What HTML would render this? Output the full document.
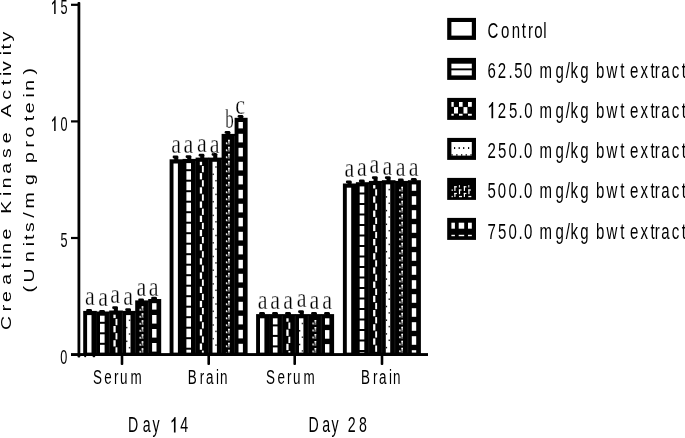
<!DOCTYPE html>
<html><head><meta charset="utf-8"><style>
html,body{margin:0;padding:0;background:#fff;width:685px;height:438px;overflow:hidden}
svg{display:block;filter:grayscale(1)}
text{fill:#000}
</style></head><body>
<svg width="685" height="438" viewBox="0 0 685 438">
<rect width="685" height="438" fill="#fff"/>
<rect x="83.20" y="310.90" width="13.60" height="43.70" fill="#000"/>
<rect x="87.10" y="315.10" width="4.40" height="37.50" fill="#fff"/>
<rect x="96.20" y="311.50" width="13.60" height="43.10" fill="#000"/>
<rect x="100.00" y="315.70" width="4.60" height="6.10" fill="#fff"/>
<rect x="100.00" y="323.80" width="4.60" height="8.50" fill="#fff"/>
<rect x="100.00" y="334.30" width="4.60" height="8.50" fill="#fff"/>
<rect x="100.00" y="344.80" width="4.60" height="7.80" fill="#fff"/>
<rect x="109.20" y="310.50" width="13.60" height="44.10" fill="#000"/>
<rect x="113.40" y="314.70" width="2.30" height="3.40" fill="#fff"/>
<rect x="115.50" y="318.90" width="1.90" height="6.30" fill="#fff"/>
<rect x="113.40" y="326.00" width="2.30" height="6.30" fill="#fff"/>
<rect x="115.50" y="333.10" width="1.90" height="6.30" fill="#fff"/>
<rect x="113.40" y="340.20" width="2.30" height="6.30" fill="#fff"/>
<rect x="115.50" y="347.30" width="1.90" height="5.30" fill="#fff"/>
<rect x="122.20" y="310.90" width="13.60" height="43.70" fill="#000"/>
<rect x="126.10" y="315.10" width="4.40" height="37.50" fill="#fff"/>
<rect x="128.80" y="319.55" width="1.6" height="1.5" fill="#333"/>
<rect x="126.10" y="326.85" width="1.3" height="1.5" fill="#111"/>
<rect x="128.80" y="333.25" width="1.6" height="1.5" fill="#333"/>
<rect x="126.10" y="340.55" width="1.3" height="1.5" fill="#111"/>
<rect x="128.80" y="346.95" width="1.6" height="1.5" fill="#333"/>
<rect x="135.20" y="300.40" width="13.60" height="54.20" fill="#000"/>
<rect x="141.70" y="306.30" width="1.60" height="4.60" fill="#b0b0b0"/>
<rect x="141.70" y="306.30" width="1.60" height="1.40" fill="#fff"/>
<rect x="139.70" y="309.70" width="3.60" height="1.20" fill="#555"/>
<rect x="139.50" y="308.80" width="1.30" height="1.80" fill="#eee"/>
<rect x="141.70" y="313.30" width="1.60" height="4.60" fill="#b0b0b0"/>
<rect x="141.70" y="313.30" width="1.60" height="1.40" fill="#fff"/>
<rect x="139.70" y="316.70" width="3.60" height="1.20" fill="#555"/>
<rect x="139.50" y="315.80" width="1.30" height="1.80" fill="#eee"/>
<rect x="141.70" y="320.30" width="1.60" height="4.60" fill="#b0b0b0"/>
<rect x="141.70" y="320.30" width="1.60" height="1.40" fill="#fff"/>
<rect x="139.70" y="323.70" width="3.60" height="1.20" fill="#555"/>
<rect x="139.50" y="322.80" width="1.30" height="1.80" fill="#eee"/>
<rect x="141.70" y="327.30" width="1.60" height="4.60" fill="#b0b0b0"/>
<rect x="141.70" y="327.30" width="1.60" height="1.40" fill="#fff"/>
<rect x="139.70" y="330.70" width="3.60" height="1.20" fill="#555"/>
<rect x="139.50" y="329.80" width="1.30" height="1.80" fill="#eee"/>
<rect x="141.70" y="334.30" width="1.60" height="4.60" fill="#b0b0b0"/>
<rect x="141.70" y="334.30" width="1.60" height="1.40" fill="#fff"/>
<rect x="139.70" y="337.70" width="3.60" height="1.20" fill="#555"/>
<rect x="139.50" y="336.80" width="1.30" height="1.80" fill="#eee"/>
<rect x="141.70" y="341.30" width="1.60" height="4.60" fill="#b0b0b0"/>
<rect x="141.70" y="341.30" width="1.60" height="1.40" fill="#fff"/>
<rect x="139.70" y="344.70" width="3.60" height="1.20" fill="#555"/>
<rect x="139.50" y="343.80" width="1.30" height="1.80" fill="#eee"/>
<rect x="141.70" y="348.30" width="1.60" height="4.30" fill="#b0b0b0"/>
<rect x="141.70" y="348.30" width="1.60" height="1.40" fill="#fff"/>
<rect x="139.70" y="351.70" width="3.60" height="0.90" fill="#555"/>
<rect x="139.50" y="350.80" width="1.30" height="1.80" fill="#eee"/>
<rect x="148.20" y="299.00" width="13.00" height="55.60" fill="#000"/>
<rect x="152.10" y="303.20" width="4.40" height="6.40" fill="#fff"/>
<rect x="152.10" y="315.00" width="4.40" height="8.60" fill="#fff"/>
<rect x="152.10" y="329.00" width="4.40" height="8.60" fill="#fff"/>
<rect x="152.10" y="343.00" width="4.40" height="8.60" fill="#fff"/>
<rect x="169.60" y="159.30" width="13.60" height="195.30" fill="#000"/>
<rect x="173.50" y="163.50" width="4.40" height="189.10" fill="#fff"/>
<rect x="182.60" y="158.90" width="13.60" height="195.70" fill="#000"/>
<rect x="186.40" y="163.10" width="4.60" height="6.10" fill="#fff"/>
<rect x="186.40" y="171.20" width="4.60" height="8.50" fill="#fff"/>
<rect x="186.40" y="181.70" width="4.60" height="8.50" fill="#fff"/>
<rect x="186.40" y="192.20" width="4.60" height="8.50" fill="#fff"/>
<rect x="186.40" y="202.70" width="4.60" height="8.50" fill="#fff"/>
<rect x="186.40" y="213.20" width="4.60" height="8.50" fill="#fff"/>
<rect x="186.40" y="223.70" width="4.60" height="8.50" fill="#fff"/>
<rect x="186.40" y="234.20" width="4.60" height="8.50" fill="#fff"/>
<rect x="186.40" y="244.70" width="4.60" height="8.50" fill="#fff"/>
<rect x="186.40" y="255.20" width="4.60" height="8.50" fill="#fff"/>
<rect x="186.40" y="265.70" width="4.60" height="8.50" fill="#fff"/>
<rect x="186.40" y="276.20" width="4.60" height="8.50" fill="#fff"/>
<rect x="186.40" y="286.70" width="4.60" height="8.50" fill="#fff"/>
<rect x="186.40" y="297.20" width="4.60" height="8.50" fill="#fff"/>
<rect x="186.40" y="307.70" width="4.60" height="8.50" fill="#fff"/>
<rect x="186.40" y="318.20" width="4.60" height="8.50" fill="#fff"/>
<rect x="186.40" y="328.70" width="4.60" height="8.50" fill="#fff"/>
<rect x="186.40" y="339.20" width="4.60" height="8.50" fill="#fff"/>
<rect x="186.40" y="349.70" width="4.60" height="2.90" fill="#fff"/>
<rect x="195.60" y="157.60" width="13.60" height="197.00" fill="#000"/>
<rect x="199.80" y="161.80" width="2.30" height="3.40" fill="#fff"/>
<rect x="201.90" y="166.00" width="1.90" height="6.30" fill="#fff"/>
<rect x="199.80" y="173.10" width="2.30" height="6.30" fill="#fff"/>
<rect x="201.90" y="180.20" width="1.90" height="6.30" fill="#fff"/>
<rect x="199.80" y="187.30" width="2.30" height="6.30" fill="#fff"/>
<rect x="201.90" y="194.40" width="1.90" height="6.30" fill="#fff"/>
<rect x="199.80" y="201.50" width="2.30" height="6.30" fill="#fff"/>
<rect x="201.90" y="208.60" width="1.90" height="6.30" fill="#fff"/>
<rect x="199.80" y="215.70" width="2.30" height="6.30" fill="#fff"/>
<rect x="201.90" y="222.80" width="1.90" height="6.30" fill="#fff"/>
<rect x="199.80" y="229.90" width="2.30" height="6.30" fill="#fff"/>
<rect x="201.90" y="237.00" width="1.90" height="6.30" fill="#fff"/>
<rect x="199.80" y="244.10" width="2.30" height="6.30" fill="#fff"/>
<rect x="201.90" y="251.20" width="1.90" height="6.30" fill="#fff"/>
<rect x="199.80" y="258.30" width="2.30" height="6.30" fill="#fff"/>
<rect x="201.90" y="265.40" width="1.90" height="6.30" fill="#fff"/>
<rect x="199.80" y="272.50" width="2.30" height="6.30" fill="#fff"/>
<rect x="201.90" y="279.60" width="1.90" height="6.30" fill="#fff"/>
<rect x="199.80" y="286.70" width="2.30" height="6.30" fill="#fff"/>
<rect x="201.90" y="293.80" width="1.90" height="6.30" fill="#fff"/>
<rect x="199.80" y="300.90" width="2.30" height="6.30" fill="#fff"/>
<rect x="201.90" y="308.00" width="1.90" height="6.30" fill="#fff"/>
<rect x="199.80" y="315.10" width="2.30" height="6.30" fill="#fff"/>
<rect x="201.90" y="322.20" width="1.90" height="6.30" fill="#fff"/>
<rect x="199.80" y="329.30" width="2.30" height="6.30" fill="#fff"/>
<rect x="201.90" y="336.40" width="1.90" height="6.30" fill="#fff"/>
<rect x="199.80" y="343.50" width="2.30" height="6.30" fill="#fff"/>
<rect x="201.90" y="350.60" width="1.90" height="2.00" fill="#fff"/>
<rect x="208.60" y="157.60" width="13.60" height="197.00" fill="#000"/>
<rect x="212.50" y="161.80" width="4.40" height="190.80" fill="#fff"/>
<rect x="215.20" y="166.25" width="1.6" height="1.5" fill="#333"/>
<rect x="212.50" y="173.55" width="1.3" height="1.5" fill="#111"/>
<rect x="215.20" y="179.95" width="1.6" height="1.5" fill="#333"/>
<rect x="212.50" y="187.25" width="1.3" height="1.5" fill="#111"/>
<rect x="215.20" y="193.65" width="1.6" height="1.5" fill="#333"/>
<rect x="212.50" y="200.95" width="1.3" height="1.5" fill="#111"/>
<rect x="215.20" y="207.35" width="1.6" height="1.5" fill="#333"/>
<rect x="212.50" y="214.65" width="1.3" height="1.5" fill="#111"/>
<rect x="215.20" y="221.05" width="1.6" height="1.5" fill="#333"/>
<rect x="212.50" y="228.35" width="1.3" height="1.5" fill="#111"/>
<rect x="215.20" y="234.75" width="1.6" height="1.5" fill="#333"/>
<rect x="212.50" y="242.05" width="1.3" height="1.5" fill="#111"/>
<rect x="215.20" y="248.45" width="1.6" height="1.5" fill="#333"/>
<rect x="212.50" y="255.75" width="1.3" height="1.5" fill="#111"/>
<rect x="215.20" y="262.15" width="1.6" height="1.5" fill="#333"/>
<rect x="212.50" y="269.45" width="1.3" height="1.5" fill="#111"/>
<rect x="215.20" y="275.85" width="1.6" height="1.5" fill="#333"/>
<rect x="212.50" y="283.15" width="1.3" height="1.5" fill="#111"/>
<rect x="215.20" y="289.55" width="1.6" height="1.5" fill="#333"/>
<rect x="212.50" y="296.85" width="1.3" height="1.5" fill="#111"/>
<rect x="215.20" y="303.25" width="1.6" height="1.5" fill="#333"/>
<rect x="212.50" y="310.55" width="1.3" height="1.5" fill="#111"/>
<rect x="215.20" y="316.95" width="1.6" height="1.5" fill="#333"/>
<rect x="212.50" y="324.25" width="1.3" height="1.5" fill="#111"/>
<rect x="215.20" y="330.65" width="1.6" height="1.5" fill="#333"/>
<rect x="212.50" y="337.95" width="1.3" height="1.5" fill="#111"/>
<rect x="215.20" y="344.35" width="1.6" height="1.5" fill="#333"/>
<rect x="221.60" y="133.90" width="13.60" height="220.70" fill="#000"/>
<rect x="228.10" y="139.80" width="1.60" height="4.60" fill="#b0b0b0"/>
<rect x="228.10" y="139.80" width="1.60" height="1.40" fill="#fff"/>
<rect x="226.10" y="143.20" width="3.60" height="1.20" fill="#555"/>
<rect x="225.90" y="142.30" width="1.30" height="1.80" fill="#eee"/>
<rect x="228.10" y="146.80" width="1.60" height="4.60" fill="#b0b0b0"/>
<rect x="228.10" y="146.80" width="1.60" height="1.40" fill="#fff"/>
<rect x="226.10" y="150.20" width="3.60" height="1.20" fill="#555"/>
<rect x="225.90" y="149.30" width="1.30" height="1.80" fill="#eee"/>
<rect x="228.10" y="153.80" width="1.60" height="4.60" fill="#b0b0b0"/>
<rect x="228.10" y="153.80" width="1.60" height="1.40" fill="#fff"/>
<rect x="226.10" y="157.20" width="3.60" height="1.20" fill="#555"/>
<rect x="225.90" y="156.30" width="1.30" height="1.80" fill="#eee"/>
<rect x="228.10" y="160.80" width="1.60" height="4.60" fill="#b0b0b0"/>
<rect x="228.10" y="160.80" width="1.60" height="1.40" fill="#fff"/>
<rect x="226.10" y="164.20" width="3.60" height="1.20" fill="#555"/>
<rect x="225.90" y="163.30" width="1.30" height="1.80" fill="#eee"/>
<rect x="228.10" y="167.80" width="1.60" height="4.60" fill="#b0b0b0"/>
<rect x="228.10" y="167.80" width="1.60" height="1.40" fill="#fff"/>
<rect x="226.10" y="171.20" width="3.60" height="1.20" fill="#555"/>
<rect x="225.90" y="170.30" width="1.30" height="1.80" fill="#eee"/>
<rect x="228.10" y="174.80" width="1.60" height="4.60" fill="#b0b0b0"/>
<rect x="228.10" y="174.80" width="1.60" height="1.40" fill="#fff"/>
<rect x="226.10" y="178.20" width="3.60" height="1.20" fill="#555"/>
<rect x="225.90" y="177.30" width="1.30" height="1.80" fill="#eee"/>
<rect x="228.10" y="181.80" width="1.60" height="4.60" fill="#b0b0b0"/>
<rect x="228.10" y="181.80" width="1.60" height="1.40" fill="#fff"/>
<rect x="226.10" y="185.20" width="3.60" height="1.20" fill="#555"/>
<rect x="225.90" y="184.30" width="1.30" height="1.80" fill="#eee"/>
<rect x="228.10" y="188.80" width="1.60" height="4.60" fill="#b0b0b0"/>
<rect x="228.10" y="188.80" width="1.60" height="1.40" fill="#fff"/>
<rect x="226.10" y="192.20" width="3.60" height="1.20" fill="#555"/>
<rect x="225.90" y="191.30" width="1.30" height="1.80" fill="#eee"/>
<rect x="228.10" y="195.80" width="1.60" height="4.60" fill="#b0b0b0"/>
<rect x="228.10" y="195.80" width="1.60" height="1.40" fill="#fff"/>
<rect x="226.10" y="199.20" width="3.60" height="1.20" fill="#555"/>
<rect x="225.90" y="198.30" width="1.30" height="1.80" fill="#eee"/>
<rect x="228.10" y="202.80" width="1.60" height="4.60" fill="#b0b0b0"/>
<rect x="228.10" y="202.80" width="1.60" height="1.40" fill="#fff"/>
<rect x="226.10" y="206.20" width="3.60" height="1.20" fill="#555"/>
<rect x="225.90" y="205.30" width="1.30" height="1.80" fill="#eee"/>
<rect x="228.10" y="209.80" width="1.60" height="4.60" fill="#b0b0b0"/>
<rect x="228.10" y="209.80" width="1.60" height="1.40" fill="#fff"/>
<rect x="226.10" y="213.20" width="3.60" height="1.20" fill="#555"/>
<rect x="225.90" y="212.30" width="1.30" height="1.80" fill="#eee"/>
<rect x="228.10" y="216.80" width="1.60" height="4.60" fill="#b0b0b0"/>
<rect x="228.10" y="216.80" width="1.60" height="1.40" fill="#fff"/>
<rect x="226.10" y="220.20" width="3.60" height="1.20" fill="#555"/>
<rect x="225.90" y="219.30" width="1.30" height="1.80" fill="#eee"/>
<rect x="228.10" y="223.80" width="1.60" height="4.60" fill="#b0b0b0"/>
<rect x="228.10" y="223.80" width="1.60" height="1.40" fill="#fff"/>
<rect x="226.10" y="227.20" width="3.60" height="1.20" fill="#555"/>
<rect x="225.90" y="226.30" width="1.30" height="1.80" fill="#eee"/>
<rect x="228.10" y="230.80" width="1.60" height="4.60" fill="#b0b0b0"/>
<rect x="228.10" y="230.80" width="1.60" height="1.40" fill="#fff"/>
<rect x="226.10" y="234.20" width="3.60" height="1.20" fill="#555"/>
<rect x="225.90" y="233.30" width="1.30" height="1.80" fill="#eee"/>
<rect x="228.10" y="237.80" width="1.60" height="4.60" fill="#b0b0b0"/>
<rect x="228.10" y="237.80" width="1.60" height="1.40" fill="#fff"/>
<rect x="226.10" y="241.20" width="3.60" height="1.20" fill="#555"/>
<rect x="225.90" y="240.30" width="1.30" height="1.80" fill="#eee"/>
<rect x="228.10" y="244.80" width="1.60" height="4.60" fill="#b0b0b0"/>
<rect x="228.10" y="244.80" width="1.60" height="1.40" fill="#fff"/>
<rect x="226.10" y="248.20" width="3.60" height="1.20" fill="#555"/>
<rect x="225.90" y="247.30" width="1.30" height="1.80" fill="#eee"/>
<rect x="228.10" y="251.80" width="1.60" height="4.60" fill="#b0b0b0"/>
<rect x="228.10" y="251.80" width="1.60" height="1.40" fill="#fff"/>
<rect x="226.10" y="255.20" width="3.60" height="1.20" fill="#555"/>
<rect x="225.90" y="254.30" width="1.30" height="1.80" fill="#eee"/>
<rect x="228.10" y="258.80" width="1.60" height="4.60" fill="#b0b0b0"/>
<rect x="228.10" y="258.80" width="1.60" height="1.40" fill="#fff"/>
<rect x="226.10" y="262.20" width="3.60" height="1.20" fill="#555"/>
<rect x="225.90" y="261.30" width="1.30" height="1.80" fill="#eee"/>
<rect x="228.10" y="265.80" width="1.60" height="4.60" fill="#b0b0b0"/>
<rect x="228.10" y="265.80" width="1.60" height="1.40" fill="#fff"/>
<rect x="226.10" y="269.20" width="3.60" height="1.20" fill="#555"/>
<rect x="225.90" y="268.30" width="1.30" height="1.80" fill="#eee"/>
<rect x="228.10" y="272.80" width="1.60" height="4.60" fill="#b0b0b0"/>
<rect x="228.10" y="272.80" width="1.60" height="1.40" fill="#fff"/>
<rect x="226.10" y="276.20" width="3.60" height="1.20" fill="#555"/>
<rect x="225.90" y="275.30" width="1.30" height="1.80" fill="#eee"/>
<rect x="228.10" y="279.80" width="1.60" height="4.60" fill="#b0b0b0"/>
<rect x="228.10" y="279.80" width="1.60" height="1.40" fill="#fff"/>
<rect x="226.10" y="283.20" width="3.60" height="1.20" fill="#555"/>
<rect x="225.90" y="282.30" width="1.30" height="1.80" fill="#eee"/>
<rect x="228.10" y="286.80" width="1.60" height="4.60" fill="#b0b0b0"/>
<rect x="228.10" y="286.80" width="1.60" height="1.40" fill="#fff"/>
<rect x="226.10" y="290.20" width="3.60" height="1.20" fill="#555"/>
<rect x="225.90" y="289.30" width="1.30" height="1.80" fill="#eee"/>
<rect x="228.10" y="293.80" width="1.60" height="4.60" fill="#b0b0b0"/>
<rect x="228.10" y="293.80" width="1.60" height="1.40" fill="#fff"/>
<rect x="226.10" y="297.20" width="3.60" height="1.20" fill="#555"/>
<rect x="225.90" y="296.30" width="1.30" height="1.80" fill="#eee"/>
<rect x="228.10" y="300.80" width="1.60" height="4.60" fill="#b0b0b0"/>
<rect x="228.10" y="300.80" width="1.60" height="1.40" fill="#fff"/>
<rect x="226.10" y="304.20" width="3.60" height="1.20" fill="#555"/>
<rect x="225.90" y="303.30" width="1.30" height="1.80" fill="#eee"/>
<rect x="228.10" y="307.80" width="1.60" height="4.60" fill="#b0b0b0"/>
<rect x="228.10" y="307.80" width="1.60" height="1.40" fill="#fff"/>
<rect x="226.10" y="311.20" width="3.60" height="1.20" fill="#555"/>
<rect x="225.90" y="310.30" width="1.30" height="1.80" fill="#eee"/>
<rect x="228.10" y="314.80" width="1.60" height="4.60" fill="#b0b0b0"/>
<rect x="228.10" y="314.80" width="1.60" height="1.40" fill="#fff"/>
<rect x="226.10" y="318.20" width="3.60" height="1.20" fill="#555"/>
<rect x="225.90" y="317.30" width="1.30" height="1.80" fill="#eee"/>
<rect x="228.10" y="321.80" width="1.60" height="4.60" fill="#b0b0b0"/>
<rect x="228.10" y="321.80" width="1.60" height="1.40" fill="#fff"/>
<rect x="226.10" y="325.20" width="3.60" height="1.20" fill="#555"/>
<rect x="225.90" y="324.30" width="1.30" height="1.80" fill="#eee"/>
<rect x="228.10" y="328.80" width="1.60" height="4.60" fill="#b0b0b0"/>
<rect x="228.10" y="328.80" width="1.60" height="1.40" fill="#fff"/>
<rect x="226.10" y="332.20" width="3.60" height="1.20" fill="#555"/>
<rect x="225.90" y="331.30" width="1.30" height="1.80" fill="#eee"/>
<rect x="228.10" y="335.80" width="1.60" height="4.60" fill="#b0b0b0"/>
<rect x="228.10" y="335.80" width="1.60" height="1.40" fill="#fff"/>
<rect x="226.10" y="339.20" width="3.60" height="1.20" fill="#555"/>
<rect x="225.90" y="338.30" width="1.30" height="1.80" fill="#eee"/>
<rect x="228.10" y="342.80" width="1.60" height="4.60" fill="#b0b0b0"/>
<rect x="228.10" y="342.80" width="1.60" height="1.40" fill="#fff"/>
<rect x="226.10" y="346.20" width="3.60" height="1.20" fill="#555"/>
<rect x="225.90" y="345.30" width="1.30" height="1.80" fill="#eee"/>
<rect x="228.10" y="349.80" width="1.60" height="2.80" fill="#b0b0b0"/>
<rect x="228.10" y="349.80" width="1.60" height="1.40" fill="#fff"/>
<rect x="225.90" y="352.30" width="1.30" height="0.30" fill="#eee"/>
<rect x="234.60" y="117.80" width="13.00" height="236.80" fill="#000"/>
<rect x="238.50" y="122.00" width="4.40" height="6.40" fill="#fff"/>
<rect x="238.50" y="133.80" width="4.40" height="8.60" fill="#fff"/>
<rect x="238.50" y="147.80" width="4.40" height="8.60" fill="#fff"/>
<rect x="238.50" y="161.80" width="4.40" height="8.60" fill="#fff"/>
<rect x="238.50" y="175.80" width="4.40" height="8.60" fill="#fff"/>
<rect x="238.50" y="189.80" width="4.40" height="8.60" fill="#fff"/>
<rect x="238.50" y="203.80" width="4.40" height="8.60" fill="#fff"/>
<rect x="238.50" y="217.80" width="4.40" height="8.60" fill="#fff"/>
<rect x="238.50" y="231.80" width="4.40" height="8.60" fill="#fff"/>
<rect x="238.50" y="245.80" width="4.40" height="8.60" fill="#fff"/>
<rect x="238.50" y="259.80" width="4.40" height="8.60" fill="#fff"/>
<rect x="238.50" y="273.80" width="4.40" height="8.60" fill="#fff"/>
<rect x="238.50" y="287.80" width="4.40" height="8.60" fill="#fff"/>
<rect x="238.50" y="301.80" width="4.40" height="8.60" fill="#fff"/>
<rect x="238.50" y="315.80" width="4.40" height="8.60" fill="#fff"/>
<rect x="238.50" y="329.80" width="4.40" height="8.60" fill="#fff"/>
<rect x="238.50" y="343.80" width="4.40" height="8.60" fill="#fff"/>
<rect x="256.10" y="314.10" width="13.60" height="40.50" fill="#000"/>
<rect x="260.00" y="318.30" width="4.40" height="34.30" fill="#fff"/>
<rect x="269.10" y="314.10" width="13.60" height="40.50" fill="#000"/>
<rect x="272.90" y="318.30" width="4.60" height="6.10" fill="#fff"/>
<rect x="272.90" y="326.40" width="4.60" height="8.50" fill="#fff"/>
<rect x="272.90" y="336.90" width="4.60" height="8.50" fill="#fff"/>
<rect x="272.90" y="347.40" width="4.60" height="5.20" fill="#fff"/>
<rect x="282.10" y="314.10" width="13.60" height="40.50" fill="#000"/>
<rect x="286.30" y="318.30" width="2.30" height="3.40" fill="#fff"/>
<rect x="288.40" y="322.50" width="1.90" height="6.30" fill="#fff"/>
<rect x="286.30" y="329.60" width="2.30" height="6.30" fill="#fff"/>
<rect x="288.40" y="336.70" width="1.90" height="6.30" fill="#fff"/>
<rect x="286.30" y="343.80" width="2.30" height="6.30" fill="#fff"/>
<rect x="288.40" y="350.90" width="1.90" height="1.70" fill="#fff"/>
<rect x="295.10" y="314.10" width="13.60" height="40.50" fill="#000"/>
<rect x="299.00" y="318.30" width="4.40" height="34.30" fill="#fff"/>
<rect x="301.70" y="322.75" width="1.6" height="1.5" fill="#333"/>
<rect x="299.00" y="330.05" width="1.3" height="1.5" fill="#111"/>
<rect x="301.70" y="336.45" width="1.6" height="1.5" fill="#333"/>
<rect x="299.00" y="343.75" width="1.3" height="1.5" fill="#111"/>
<rect x="301.70" y="350.15" width="1.6" height="1.5" fill="#333"/>
<rect x="308.10" y="314.10" width="13.60" height="40.50" fill="#000"/>
<rect x="314.60" y="320.00" width="1.60" height="4.60" fill="#b0b0b0"/>
<rect x="314.60" y="320.00" width="1.60" height="1.40" fill="#fff"/>
<rect x="312.60" y="323.40" width="3.60" height="1.20" fill="#555"/>
<rect x="312.40" y="322.50" width="1.30" height="1.80" fill="#eee"/>
<rect x="314.60" y="327.00" width="1.60" height="4.60" fill="#b0b0b0"/>
<rect x="314.60" y="327.00" width="1.60" height="1.40" fill="#fff"/>
<rect x="312.60" y="330.40" width="3.60" height="1.20" fill="#555"/>
<rect x="312.40" y="329.50" width="1.30" height="1.80" fill="#eee"/>
<rect x="314.60" y="334.00" width="1.60" height="4.60" fill="#b0b0b0"/>
<rect x="314.60" y="334.00" width="1.60" height="1.40" fill="#fff"/>
<rect x="312.60" y="337.40" width="3.60" height="1.20" fill="#555"/>
<rect x="312.40" y="336.50" width="1.30" height="1.80" fill="#eee"/>
<rect x="314.60" y="341.00" width="1.60" height="4.60" fill="#b0b0b0"/>
<rect x="314.60" y="341.00" width="1.60" height="1.40" fill="#fff"/>
<rect x="312.60" y="344.40" width="3.60" height="1.20" fill="#555"/>
<rect x="312.40" y="343.50" width="1.30" height="1.80" fill="#eee"/>
<rect x="314.60" y="348.00" width="1.60" height="4.60" fill="#b0b0b0"/>
<rect x="314.60" y="348.00" width="1.60" height="1.40" fill="#fff"/>
<rect x="312.60" y="351.40" width="3.60" height="1.20" fill="#555"/>
<rect x="312.40" y="350.50" width="1.30" height="1.80" fill="#eee"/>
<rect x="321.10" y="314.10" width="13.00" height="40.50" fill="#000"/>
<rect x="325.00" y="318.30" width="4.40" height="6.40" fill="#fff"/>
<rect x="325.00" y="330.10" width="4.40" height="8.60" fill="#fff"/>
<rect x="325.00" y="344.10" width="4.40" height="8.50" fill="#fff"/>
<rect x="342.90" y="183.50" width="13.60" height="171.10" fill="#000"/>
<rect x="346.80" y="187.70" width="4.40" height="164.90" fill="#fff"/>
<rect x="355.90" y="182.20" width="13.60" height="172.40" fill="#000"/>
<rect x="359.70" y="186.40" width="4.60" height="6.10" fill="#fff"/>
<rect x="359.70" y="194.50" width="4.60" height="8.50" fill="#fff"/>
<rect x="359.70" y="205.00" width="4.60" height="8.50" fill="#fff"/>
<rect x="359.70" y="215.50" width="4.60" height="8.50" fill="#fff"/>
<rect x="359.70" y="226.00" width="4.60" height="8.50" fill="#fff"/>
<rect x="359.70" y="236.50" width="4.60" height="8.50" fill="#fff"/>
<rect x="359.70" y="247.00" width="4.60" height="8.50" fill="#fff"/>
<rect x="359.70" y="257.50" width="4.60" height="8.50" fill="#fff"/>
<rect x="359.70" y="268.00" width="4.60" height="8.50" fill="#fff"/>
<rect x="359.70" y="278.50" width="4.60" height="8.50" fill="#fff"/>
<rect x="359.70" y="289.00" width="4.60" height="8.50" fill="#fff"/>
<rect x="359.70" y="299.50" width="4.60" height="8.50" fill="#fff"/>
<rect x="359.70" y="310.00" width="4.60" height="8.50" fill="#fff"/>
<rect x="359.70" y="320.50" width="4.60" height="8.50" fill="#fff"/>
<rect x="359.70" y="331.00" width="4.60" height="8.50" fill="#fff"/>
<rect x="359.70" y="341.50" width="4.60" height="8.50" fill="#fff"/>
<rect x="359.70" y="352.00" width="4.60" height="0.60" fill="#fff"/>
<rect x="368.90" y="180.90" width="13.60" height="173.70" fill="#000"/>
<rect x="373.10" y="185.10" width="2.30" height="3.40" fill="#fff"/>
<rect x="375.20" y="189.30" width="1.90" height="6.30" fill="#fff"/>
<rect x="373.10" y="196.40" width="2.30" height="6.30" fill="#fff"/>
<rect x="375.20" y="203.50" width="1.90" height="6.30" fill="#fff"/>
<rect x="373.10" y="210.60" width="2.30" height="6.30" fill="#fff"/>
<rect x="375.20" y="217.70" width="1.90" height="6.30" fill="#fff"/>
<rect x="373.10" y="224.80" width="2.30" height="6.30" fill="#fff"/>
<rect x="375.20" y="231.90" width="1.90" height="6.30" fill="#fff"/>
<rect x="373.10" y="239.00" width="2.30" height="6.30" fill="#fff"/>
<rect x="375.20" y="246.10" width="1.90" height="6.30" fill="#fff"/>
<rect x="373.10" y="253.20" width="2.30" height="6.30" fill="#fff"/>
<rect x="375.20" y="260.30" width="1.90" height="6.30" fill="#fff"/>
<rect x="373.10" y="267.40" width="2.30" height="6.30" fill="#fff"/>
<rect x="375.20" y="274.50" width="1.90" height="6.30" fill="#fff"/>
<rect x="373.10" y="281.60" width="2.30" height="6.30" fill="#fff"/>
<rect x="375.20" y="288.70" width="1.90" height="6.30" fill="#fff"/>
<rect x="373.10" y="295.80" width="2.30" height="6.30" fill="#fff"/>
<rect x="375.20" y="302.90" width="1.90" height="6.30" fill="#fff"/>
<rect x="373.10" y="310.00" width="2.30" height="6.30" fill="#fff"/>
<rect x="375.20" y="317.10" width="1.90" height="6.30" fill="#fff"/>
<rect x="373.10" y="324.20" width="2.30" height="6.30" fill="#fff"/>
<rect x="375.20" y="331.30" width="1.90" height="6.30" fill="#fff"/>
<rect x="373.10" y="338.40" width="2.30" height="6.30" fill="#fff"/>
<rect x="375.20" y="345.50" width="1.90" height="6.30" fill="#fff"/>
<rect x="381.90" y="180.20" width="13.60" height="174.40" fill="#000"/>
<rect x="385.80" y="184.40" width="4.40" height="168.20" fill="#fff"/>
<rect x="388.50" y="188.85" width="1.6" height="1.5" fill="#333"/>
<rect x="385.80" y="196.15" width="1.3" height="1.5" fill="#111"/>
<rect x="388.50" y="202.55" width="1.6" height="1.5" fill="#333"/>
<rect x="385.80" y="209.85" width="1.3" height="1.5" fill="#111"/>
<rect x="388.50" y="216.25" width="1.6" height="1.5" fill="#333"/>
<rect x="385.80" y="223.55" width="1.3" height="1.5" fill="#111"/>
<rect x="388.50" y="229.95" width="1.6" height="1.5" fill="#333"/>
<rect x="385.80" y="237.25" width="1.3" height="1.5" fill="#111"/>
<rect x="388.50" y="243.65" width="1.6" height="1.5" fill="#333"/>
<rect x="385.80" y="250.95" width="1.3" height="1.5" fill="#111"/>
<rect x="388.50" y="257.35" width="1.6" height="1.5" fill="#333"/>
<rect x="385.80" y="264.65" width="1.3" height="1.5" fill="#111"/>
<rect x="388.50" y="271.05" width="1.6" height="1.5" fill="#333"/>
<rect x="385.80" y="278.35" width="1.3" height="1.5" fill="#111"/>
<rect x="388.50" y="284.75" width="1.6" height="1.5" fill="#333"/>
<rect x="385.80" y="292.05" width="1.3" height="1.5" fill="#111"/>
<rect x="388.50" y="298.45" width="1.6" height="1.5" fill="#333"/>
<rect x="385.80" y="305.75" width="1.3" height="1.5" fill="#111"/>
<rect x="388.50" y="312.15" width="1.6" height="1.5" fill="#333"/>
<rect x="385.80" y="319.45" width="1.3" height="1.5" fill="#111"/>
<rect x="388.50" y="325.85" width="1.6" height="1.5" fill="#333"/>
<rect x="385.80" y="333.15" width="1.3" height="1.5" fill="#111"/>
<rect x="388.50" y="339.55" width="1.6" height="1.5" fill="#333"/>
<rect x="385.80" y="346.85" width="1.3" height="1.5" fill="#111"/>
<rect x="394.90" y="180.90" width="13.60" height="173.70" fill="#000"/>
<rect x="401.40" y="186.80" width="1.60" height="4.60" fill="#b0b0b0"/>
<rect x="401.40" y="186.80" width="1.60" height="1.40" fill="#fff"/>
<rect x="399.40" y="190.20" width="3.60" height="1.20" fill="#555"/>
<rect x="399.20" y="189.30" width="1.30" height="1.80" fill="#eee"/>
<rect x="401.40" y="193.80" width="1.60" height="4.60" fill="#b0b0b0"/>
<rect x="401.40" y="193.80" width="1.60" height="1.40" fill="#fff"/>
<rect x="399.40" y="197.20" width="3.60" height="1.20" fill="#555"/>
<rect x="399.20" y="196.30" width="1.30" height="1.80" fill="#eee"/>
<rect x="401.40" y="200.80" width="1.60" height="4.60" fill="#b0b0b0"/>
<rect x="401.40" y="200.80" width="1.60" height="1.40" fill="#fff"/>
<rect x="399.40" y="204.20" width="3.60" height="1.20" fill="#555"/>
<rect x="399.20" y="203.30" width="1.30" height="1.80" fill="#eee"/>
<rect x="401.40" y="207.80" width="1.60" height="4.60" fill="#b0b0b0"/>
<rect x="401.40" y="207.80" width="1.60" height="1.40" fill="#fff"/>
<rect x="399.40" y="211.20" width="3.60" height="1.20" fill="#555"/>
<rect x="399.20" y="210.30" width="1.30" height="1.80" fill="#eee"/>
<rect x="401.40" y="214.80" width="1.60" height="4.60" fill="#b0b0b0"/>
<rect x="401.40" y="214.80" width="1.60" height="1.40" fill="#fff"/>
<rect x="399.40" y="218.20" width="3.60" height="1.20" fill="#555"/>
<rect x="399.20" y="217.30" width="1.30" height="1.80" fill="#eee"/>
<rect x="401.40" y="221.80" width="1.60" height="4.60" fill="#b0b0b0"/>
<rect x="401.40" y="221.80" width="1.60" height="1.40" fill="#fff"/>
<rect x="399.40" y="225.20" width="3.60" height="1.20" fill="#555"/>
<rect x="399.20" y="224.30" width="1.30" height="1.80" fill="#eee"/>
<rect x="401.40" y="228.80" width="1.60" height="4.60" fill="#b0b0b0"/>
<rect x="401.40" y="228.80" width="1.60" height="1.40" fill="#fff"/>
<rect x="399.40" y="232.20" width="3.60" height="1.20" fill="#555"/>
<rect x="399.20" y="231.30" width="1.30" height="1.80" fill="#eee"/>
<rect x="401.40" y="235.80" width="1.60" height="4.60" fill="#b0b0b0"/>
<rect x="401.40" y="235.80" width="1.60" height="1.40" fill="#fff"/>
<rect x="399.40" y="239.20" width="3.60" height="1.20" fill="#555"/>
<rect x="399.20" y="238.30" width="1.30" height="1.80" fill="#eee"/>
<rect x="401.40" y="242.80" width="1.60" height="4.60" fill="#b0b0b0"/>
<rect x="401.40" y="242.80" width="1.60" height="1.40" fill="#fff"/>
<rect x="399.40" y="246.20" width="3.60" height="1.20" fill="#555"/>
<rect x="399.20" y="245.30" width="1.30" height="1.80" fill="#eee"/>
<rect x="401.40" y="249.80" width="1.60" height="4.60" fill="#b0b0b0"/>
<rect x="401.40" y="249.80" width="1.60" height="1.40" fill="#fff"/>
<rect x="399.40" y="253.20" width="3.60" height="1.20" fill="#555"/>
<rect x="399.20" y="252.30" width="1.30" height="1.80" fill="#eee"/>
<rect x="401.40" y="256.80" width="1.60" height="4.60" fill="#b0b0b0"/>
<rect x="401.40" y="256.80" width="1.60" height="1.40" fill="#fff"/>
<rect x="399.40" y="260.20" width="3.60" height="1.20" fill="#555"/>
<rect x="399.20" y="259.30" width="1.30" height="1.80" fill="#eee"/>
<rect x="401.40" y="263.80" width="1.60" height="4.60" fill="#b0b0b0"/>
<rect x="401.40" y="263.80" width="1.60" height="1.40" fill="#fff"/>
<rect x="399.40" y="267.20" width="3.60" height="1.20" fill="#555"/>
<rect x="399.20" y="266.30" width="1.30" height="1.80" fill="#eee"/>
<rect x="401.40" y="270.80" width="1.60" height="4.60" fill="#b0b0b0"/>
<rect x="401.40" y="270.80" width="1.60" height="1.40" fill="#fff"/>
<rect x="399.40" y="274.20" width="3.60" height="1.20" fill="#555"/>
<rect x="399.20" y="273.30" width="1.30" height="1.80" fill="#eee"/>
<rect x="401.40" y="277.80" width="1.60" height="4.60" fill="#b0b0b0"/>
<rect x="401.40" y="277.80" width="1.60" height="1.40" fill="#fff"/>
<rect x="399.40" y="281.20" width="3.60" height="1.20" fill="#555"/>
<rect x="399.20" y="280.30" width="1.30" height="1.80" fill="#eee"/>
<rect x="401.40" y="284.80" width="1.60" height="4.60" fill="#b0b0b0"/>
<rect x="401.40" y="284.80" width="1.60" height="1.40" fill="#fff"/>
<rect x="399.40" y="288.20" width="3.60" height="1.20" fill="#555"/>
<rect x="399.20" y="287.30" width="1.30" height="1.80" fill="#eee"/>
<rect x="401.40" y="291.80" width="1.60" height="4.60" fill="#b0b0b0"/>
<rect x="401.40" y="291.80" width="1.60" height="1.40" fill="#fff"/>
<rect x="399.40" y="295.20" width="3.60" height="1.20" fill="#555"/>
<rect x="399.20" y="294.30" width="1.30" height="1.80" fill="#eee"/>
<rect x="401.40" y="298.80" width="1.60" height="4.60" fill="#b0b0b0"/>
<rect x="401.40" y="298.80" width="1.60" height="1.40" fill="#fff"/>
<rect x="399.40" y="302.20" width="3.60" height="1.20" fill="#555"/>
<rect x="399.20" y="301.30" width="1.30" height="1.80" fill="#eee"/>
<rect x="401.40" y="305.80" width="1.60" height="4.60" fill="#b0b0b0"/>
<rect x="401.40" y="305.80" width="1.60" height="1.40" fill="#fff"/>
<rect x="399.40" y="309.20" width="3.60" height="1.20" fill="#555"/>
<rect x="399.20" y="308.30" width="1.30" height="1.80" fill="#eee"/>
<rect x="401.40" y="312.80" width="1.60" height="4.60" fill="#b0b0b0"/>
<rect x="401.40" y="312.80" width="1.60" height="1.40" fill="#fff"/>
<rect x="399.40" y="316.20" width="3.60" height="1.20" fill="#555"/>
<rect x="399.20" y="315.30" width="1.30" height="1.80" fill="#eee"/>
<rect x="401.40" y="319.80" width="1.60" height="4.60" fill="#b0b0b0"/>
<rect x="401.40" y="319.80" width="1.60" height="1.40" fill="#fff"/>
<rect x="399.40" y="323.20" width="3.60" height="1.20" fill="#555"/>
<rect x="399.20" y="322.30" width="1.30" height="1.80" fill="#eee"/>
<rect x="401.40" y="326.80" width="1.60" height="4.60" fill="#b0b0b0"/>
<rect x="401.40" y="326.80" width="1.60" height="1.40" fill="#fff"/>
<rect x="399.40" y="330.20" width="3.60" height="1.20" fill="#555"/>
<rect x="399.20" y="329.30" width="1.30" height="1.80" fill="#eee"/>
<rect x="401.40" y="333.80" width="1.60" height="4.60" fill="#b0b0b0"/>
<rect x="401.40" y="333.80" width="1.60" height="1.40" fill="#fff"/>
<rect x="399.40" y="337.20" width="3.60" height="1.20" fill="#555"/>
<rect x="399.20" y="336.30" width="1.30" height="1.80" fill="#eee"/>
<rect x="401.40" y="340.80" width="1.60" height="4.60" fill="#b0b0b0"/>
<rect x="401.40" y="340.80" width="1.60" height="1.40" fill="#fff"/>
<rect x="399.40" y="344.20" width="3.60" height="1.20" fill="#555"/>
<rect x="399.20" y="343.30" width="1.30" height="1.80" fill="#eee"/>
<rect x="401.40" y="347.80" width="1.60" height="4.60" fill="#b0b0b0"/>
<rect x="401.40" y="347.80" width="1.60" height="1.40" fill="#fff"/>
<rect x="399.40" y="351.20" width="3.60" height="1.20" fill="#555"/>
<rect x="399.20" y="350.30" width="1.30" height="1.80" fill="#eee"/>
<rect x="407.90" y="180.20" width="13.00" height="174.40" fill="#000"/>
<rect x="411.80" y="184.40" width="4.40" height="6.40" fill="#fff"/>
<rect x="411.80" y="196.20" width="4.40" height="8.60" fill="#fff"/>
<rect x="411.80" y="210.20" width="4.40" height="8.60" fill="#fff"/>
<rect x="411.80" y="224.20" width="4.40" height="8.60" fill="#fff"/>
<rect x="411.80" y="238.20" width="4.40" height="8.60" fill="#fff"/>
<rect x="411.80" y="252.20" width="4.40" height="8.60" fill="#fff"/>
<rect x="411.80" y="266.20" width="4.40" height="8.60" fill="#fff"/>
<rect x="411.80" y="280.20" width="4.40" height="8.60" fill="#fff"/>
<rect x="411.80" y="294.20" width="4.40" height="8.60" fill="#fff"/>
<rect x="411.80" y="308.20" width="4.40" height="8.60" fill="#fff"/>
<rect x="411.80" y="322.20" width="4.40" height="8.60" fill="#fff"/>
<rect x="411.80" y="336.20" width="4.40" height="8.60" fill="#fff"/>
<rect x="411.80" y="350.20" width="4.40" height="2.40" fill="#fff"/>
<rect x="86.20" y="308.90" width="5.7" height="2.8" rx="1.3" fill="#000"/>
<rect x="87.80" y="309.90" width="4.1" height="2.00" fill="#000"/>
<rect x="99.20" y="310.00" width="5.7" height="2.8" rx="1.3" fill="#000"/>
<rect x="100.80" y="311.00" width="4.1" height="1.50" fill="#000"/>
<rect x="112.20" y="306.30" width="5.7" height="2.8" rx="1.3" fill="#000"/>
<rect x="113.80" y="307.30" width="4.1" height="4.20" fill="#000"/>
<rect x="125.20" y="308.30" width="5.7" height="2.8" rx="1.3" fill="#000"/>
<rect x="126.80" y="309.30" width="4.1" height="2.60" fill="#000"/>
<rect x="138.20" y="298.40" width="5.7" height="2.8" rx="1.3" fill="#000"/>
<rect x="139.80" y="299.40" width="4.1" height="2.00" fill="#000"/>
<rect x="151.20" y="296.80" width="5.7" height="2.8" rx="1.3" fill="#000"/>
<rect x="152.80" y="297.80" width="4.1" height="2.20" fill="#000"/>
<rect x="172.60" y="155.60" width="5.7" height="2.8" rx="1.3" fill="#000"/>
<rect x="174.20" y="156.60" width="4.1" height="3.70" fill="#000"/>
<rect x="185.60" y="155.20" width="5.7" height="2.8" rx="1.3" fill="#000"/>
<rect x="187.20" y="156.20" width="4.1" height="3.70" fill="#000"/>
<rect x="198.60" y="153.80" width="5.7" height="2.8" rx="1.3" fill="#000"/>
<rect x="200.20" y="154.80" width="4.1" height="3.80" fill="#000"/>
<rect x="211.60" y="153.00" width="5.7" height="2.8" rx="1.3" fill="#000"/>
<rect x="213.20" y="154.00" width="4.1" height="4.60" fill="#000"/>
<rect x="224.60" y="131.00" width="5.7" height="2.8" rx="1.3" fill="#000"/>
<rect x="226.20" y="132.00" width="4.1" height="2.90" fill="#000"/>
<rect x="237.60" y="115.00" width="5.7" height="2.8" rx="1.3" fill="#000"/>
<rect x="239.20" y="116.00" width="4.1" height="2.80" fill="#000"/>
<rect x="259.10" y="311.90" width="5.7" height="2.8" rx="1.3" fill="#000"/>
<rect x="260.70" y="312.90" width="4.1" height="2.20" fill="#000"/>
<rect x="272.10" y="311.90" width="5.7" height="2.8" rx="1.3" fill="#000"/>
<rect x="273.70" y="312.90" width="4.1" height="2.20" fill="#000"/>
<rect x="285.10" y="311.90" width="5.7" height="2.8" rx="1.3" fill="#000"/>
<rect x="286.70" y="312.90" width="4.1" height="2.20" fill="#000"/>
<rect x="298.10" y="310.30" width="5.7" height="2.8" rx="1.3" fill="#000"/>
<rect x="299.70" y="311.30" width="4.1" height="3.80" fill="#000"/>
<rect x="311.10" y="311.90" width="5.7" height="2.8" rx="1.3" fill="#000"/>
<rect x="312.70" y="312.90" width="4.1" height="2.20" fill="#000"/>
<rect x="324.10" y="311.90" width="5.7" height="2.8" rx="1.3" fill="#000"/>
<rect x="325.70" y="312.90" width="4.1" height="2.20" fill="#000"/>
<rect x="345.90" y="180.50" width="5.7" height="2.8" rx="1.3" fill="#000"/>
<rect x="347.50" y="181.50" width="4.1" height="3.00" fill="#000"/>
<rect x="358.90" y="179.60" width="5.7" height="2.8" rx="1.3" fill="#000"/>
<rect x="360.50" y="180.60" width="4.1" height="2.60" fill="#000"/>
<rect x="371.90" y="176.30" width="5.7" height="2.8" rx="1.3" fill="#000"/>
<rect x="373.50" y="177.30" width="4.1" height="4.60" fill="#000"/>
<rect x="384.90" y="176.30" width="5.7" height="2.8" rx="1.3" fill="#000"/>
<rect x="386.50" y="177.30" width="4.1" height="3.90" fill="#000"/>
<rect x="397.90" y="178.60" width="5.7" height="2.8" rx="1.3" fill="#000"/>
<rect x="399.50" y="179.60" width="4.1" height="2.30" fill="#000"/>
<rect x="410.90" y="178.00" width="5.7" height="2.8" rx="1.3" fill="#000"/>
<rect x="412.50" y="179.00" width="4.1" height="2.20" fill="#000"/>
<rect x="108.90" y="313.50" width="0.6" height="39.10" fill="#2a2a2a"/>
<rect x="121.90" y="312.90" width="0.6" height="39.70" fill="#2a2a2a"/>
<rect x="134.90" y="312.90" width="0.6" height="39.70" fill="#2a2a2a"/>
<rect x="147.90" y="302.40" width="0.6" height="50.20" fill="#2a2a2a"/>
<rect x="195.30" y="160.90" width="0.6" height="191.70" fill="#2a2a2a"/>
<rect x="208.30" y="159.60" width="0.6" height="193.00" fill="#2a2a2a"/>
<rect x="221.30" y="159.60" width="0.6" height="193.00" fill="#2a2a2a"/>
<rect x="234.30" y="135.90" width="0.6" height="216.70" fill="#2a2a2a"/>
<rect x="281.80" y="316.10" width="0.6" height="36.50" fill="#2a2a2a"/>
<rect x="294.80" y="316.10" width="0.6" height="36.50" fill="#2a2a2a"/>
<rect x="307.80" y="316.10" width="0.6" height="36.50" fill="#2a2a2a"/>
<rect x="320.80" y="316.10" width="0.6" height="36.50" fill="#2a2a2a"/>
<rect x="368.60" y="184.20" width="0.6" height="168.40" fill="#2a2a2a"/>
<rect x="381.60" y="182.90" width="0.6" height="169.70" fill="#2a2a2a"/>
<rect x="394.60" y="182.90" width="0.6" height="169.70" fill="#2a2a2a"/>
<rect x="407.60" y="182.90" width="0.6" height="169.70" fill="#2a2a2a"/>
<rect x="77.5" y="2" width="2.8" height="355.5" rx="1" fill="#000"/>
<rect x="84.2" y="355" width="2.0" height="2.3" rx="0.8" fill="#000"/>
<rect x="92.6" y="355" width="2.6" height="2.3" rx="0.8" fill="#000"/>
<rect x="71" y="353.1" width="357" height="2.9" fill="#000"/>
<rect x="71" y="3.70" width="8" height="2.2" fill="#000"/>
<rect x="71" y="120.30" width="8" height="2.2" fill="#000"/>
<rect x="71" y="236.90" width="8" height="2.2" fill="#000"/>
<rect x="120.70" y="355" width="2.6" height="10.0" rx="1" fill="#000"/>
<rect x="207.40" y="355" width="2.6" height="10.0" rx="1" fill="#000"/>
<rect x="293.40" y="355" width="2.6" height="10.0" rx="1" fill="#000"/>
<rect x="380.70" y="355" width="2.6" height="10.0" rx="1" fill="#000"/>
<path transform="translate(50.67,14.00) scale(0.00618,-0.00996)" d="M800 0H565V1130Q495 1068 400 1013T215 925V1100Q370 1172 483 1274T665 1472H800Z"/>
<text transform="translate(0,14.00) scale(0.6200,1)" x="97.41" y="0" font-family="Liberation Sans" font-size="20.4" >5</text>
<path transform="translate(50.67,131.00) scale(0.00618,-0.00996)" d="M800 0H565V1130Q495 1068 400 1013T215 925V1100Q370 1172 483 1274T665 1472H800Z"/>
<text transform="translate(0,131.00) scale(0.6200,1)" x="97.59" y="0" font-family="Liberation Sans" font-size="20.4" >0</text>
<text transform="translate(0,247.30) scale(0.6200,1)" x="97.41" y="0" font-family="Liberation Sans" font-size="20.4" >5</text>
<text transform="translate(0,363.90) scale(0.6200,1)" x="97.11" y="0" font-family="Liberation Sans" font-size="20.4" >0</text>
<text transform="translate(0,384.30) scale(0.6800,1)" x="136.75 153.42 167.66 176.51 191.92" y="0" font-family="Liberation Sans" font-size="19.8" >Serum</text>
<text transform="translate(0,384.40) scale(0.6800,1)" x="276.02 293.83 302.84 317.50 323.39" y="0" font-family="Liberation Sans" font-size="19.8" >Brain</text>
<text transform="translate(0,384.30) scale(0.6800,1)" x="391.31 407.98 422.21 431.07 446.48" y="0" font-family="Liberation Sans" font-size="19.8" >Serum</text>
<text transform="translate(0,384.40) scale(0.6800,1)" x="530.73 548.54 557.54 572.20 578.10" y="0" font-family="Liberation Sans" font-size="19.8" >Brain</text>
<path transform="translate(170.01,432.40) scale(0.00693,-0.01050)" d="M800 0H565V1130Q495 1068 400 1013T215 925V1100Q370 1172 483 1274T665 1472H800Z"/>
<text transform="translate(0,432.40) scale(0.6600,1)" x="193.84 216.36 231.16 273.29" y="0" font-family="Liberation Sans" font-size="21.5" >Day4</text>
<text transform="translate(0,432.40) scale(0.6600,1)" x="467.33 488.33 502.37 526.80 544.07" y="0" font-family="Liberation Sans" font-size="21.5" >Day28</text>
<text transform="translate(10.50,340.00) rotate(-90) scale(1,0.74)" x="9.89 28.87 38.00 55.21 71.51 80.24 86.36 100.60 126.21 144.04 151.81 166.26 182.01 196.80 222.80 240.22 254.66 263.94 269.02 284.64 290.56 298.52" y="0" font-family="Liberation Sans" font-size="19.5">CreatineKinaseActivity</text>
<text transform="translate(34.00,300.00) rotate(-90) scale(1,0.74)" x="7.46 17.51 38.06 53.69 60.11 68.01 82.19 91.47 115.05 137.06 152.47 162.58 178.66 186.70 202.49 209.21 225.60" y="0" font-family="Liberation Sans" font-size="19.5">(Units/mgprotein)</text>
<text transform="translate(0,305.40) scale(0.8000,1)" x="106.41" y="0" font-family="Liberation Serif" font-size="27.5" stroke="#fff" stroke-width="0.3">a</text>
<text transform="translate(0,306.00) scale(0.8000,1)" x="122.78" y="0" font-family="Liberation Serif" font-size="27.5" stroke="#fff" stroke-width="0.3">a</text>
<text transform="translate(0,303.40) scale(0.8000,1)" x="137.66" y="0" font-family="Liberation Serif" font-size="27.5" stroke="#fff" stroke-width="0.3">a</text>
<text transform="translate(0,305.40) scale(0.8000,1)" x="154.03" y="0" font-family="Liberation Serif" font-size="27.5" stroke="#fff" stroke-width="0.3">a</text>
<text transform="translate(0,295.50) scale(0.8000,1)" x="170.53" y="0" font-family="Liberation Serif" font-size="27.5" stroke="#fff" stroke-width="0.3">a</text>
<text transform="translate(0,295.50) scale(0.8000,1)" x="186.03" y="0" font-family="Liberation Serif" font-size="27.5" stroke="#fff" stroke-width="0.3">a</text>
<text transform="translate(0,152.60) scale(0.8000,1)" x="213.91" y="0" font-family="Liberation Serif" font-size="27.5" stroke="#fff" stroke-width="0.3">a</text>
<text transform="translate(0,152.60) scale(0.8000,1)" x="229.28" y="0" font-family="Liberation Serif" font-size="27.5" stroke="#fff" stroke-width="0.3">a</text>
<text transform="translate(0,151.70) scale(0.8000,1)" x="246.41" y="0" font-family="Liberation Serif" font-size="27.5" stroke="#fff" stroke-width="0.3">a</text>
<text transform="translate(0,152.60) scale(0.8000,1)" x="262.28" y="0" font-family="Liberation Serif" font-size="27.5" stroke="#fff" stroke-width="0.3">a</text>
<text transform="translate(0,127.78) scale(0.6200,1)" x="363.23" y="0" font-family="Liberation Serif" font-size="27.5" stroke="#fff" stroke-width="0.3">b</text>
<text transform="translate(0,114.16) scale(0.8000,1)" x="294.20" y="0" font-family="Liberation Serif" font-size="27.5" stroke="#fff" stroke-width="0.3">c</text>
<text transform="translate(0,308.70) scale(0.8000,1)" x="322.16" y="0" font-family="Liberation Serif" font-size="27.5" stroke="#fff" stroke-width="0.3">a</text>
<text transform="translate(0,308.70) scale(0.8000,1)" x="337.78" y="0" font-family="Liberation Serif" font-size="27.5" stroke="#fff" stroke-width="0.3">a</text>
<text transform="translate(0,308.70) scale(0.8000,1)" x="354.03" y="0" font-family="Liberation Serif" font-size="27.5" stroke="#fff" stroke-width="0.3">a</text>
<text transform="translate(0,307.40) scale(0.8000,1)" x="371.03" y="0" font-family="Liberation Serif" font-size="27.5" stroke="#fff" stroke-width="0.3">a</text>
<text transform="translate(0,308.70) scale(0.8000,1)" x="387.03" y="0" font-family="Liberation Serif" font-size="27.5" stroke="#fff" stroke-width="0.3">a</text>
<text transform="translate(0,308.70) scale(0.8000,1)" x="402.78" y="0" font-family="Liberation Serif" font-size="27.5" stroke="#fff" stroke-width="0.3">a</text>
<text transform="translate(0,177.40) scale(0.8000,1)" x="430.53" y="0" font-family="Liberation Serif" font-size="27.5" stroke="#fff" stroke-width="0.3">a</text>
<text transform="translate(0,176.00) scale(0.8000,1)" x="446.16" y="0" font-family="Liberation Serif" font-size="27.5" stroke="#fff" stroke-width="0.3">a</text>
<text transform="translate(0,173.10) scale(0.8000,1)" x="461.78" y="0" font-family="Liberation Serif" font-size="27.5" stroke="#fff" stroke-width="0.3">a</text>
<text transform="translate(0,174.70) scale(0.8000,1)" x="478.16" y="0" font-family="Liberation Serif" font-size="27.5" stroke="#fff" stroke-width="0.3">a</text>
<text transform="translate(0,176.00) scale(0.8000,1)" x="494.66" y="0" font-family="Liberation Serif" font-size="27.5" stroke="#fff" stroke-width="0.3">a</text>
<text transform="translate(0,176.00) scale(0.8000,1)" x="511.03" y="0" font-family="Liberation Serif" font-size="27.5" stroke="#fff" stroke-width="0.3">a</text>
<text transform="translate(0,38.00) scale(0.6700,1)" x="727.52 747.72 763.74 778.77 788.06 797.42 810.73" y="0" font-family="Liberation Sans" font-size="22.4" >Control</text>
<rect x="447.2" y="17.90" width="28.8" height="22" fill="#000"/>
<rect x="451.4" y="22.00" width="20.4" height="13.6" fill="#fff"/>
<text transform="translate(0,78.10) scale(0.6700,1)" x="727.67 743.05 759.15 767.46 781.81 805.23 829.21 844.33 851.48 866.22 889.60 905.26 925.63 940.39 956.17 971.00 977.17 986.81 1002.48 1017.42" y="0" font-family="Liberation Sans" font-size="22.4" >62.50mg/kgbwtextract</text>
<rect x="447.2" y="57.90" width="28.8" height="22" fill="#000"/>
<rect x="451.4" y="63.70" width="20.4" height="4.7" fill="#fff"/>
<rect x="451.4" y="70.30" width="20.4" height="5.1" fill="#fff"/>
<path transform="translate(487.32,118.20) scale(0.00733,-0.01094)" d="M800 0H565V1130Q495 1068 400 1013T215 925V1100Q370 1172 483 1274T665 1472H800Z"/>
<text transform="translate(0,118.20) scale(0.6700,1)" x="743.05 759.55 774.07 782.56 805.23 829.21 844.33 851.48 866.22 889.60 905.26 925.63 940.39 956.17 971.00 977.17 986.81 1002.48 1017.42" y="0" font-family="Liberation Sans" font-size="22.4" >25.0mg/kgbwtextract</text>
<rect x="447.2" y="97.90" width="28.8" height="22" fill="#000"/>
<rect x="451.40" y="102.00" width="2.3" height="4.8" fill="#fff"/>
<rect x="459.00" y="102.00" width="3.6" height="4.8" fill="#fff"/>
<rect x="468.00" y="102.00" width="3.8" height="4.8" fill="#fff"/>
<rect x="454.00" y="107.10" width="4.0" height="6.4" fill="#fff"/>
<rect x="463.50" y="107.10" width="3.9" height="6.4" fill="#fff"/>
<rect x="451.40" y="113.80" width="2.3" height="1.9" fill="#fff"/>
<rect x="459.00" y="113.80" width="3.6" height="1.9" fill="#fff"/>
<rect x="468.00" y="113.80" width="3.8" height="1.9" fill="#fff"/>
<text transform="translate(0,158.30) scale(0.6700,1)" x="727.53 743.43 758.98 773.78 781.96 805.23 829.21 844.33 851.48 866.22 889.60 905.26 925.63 940.39 956.17 971.00 977.17 986.81 1002.48 1017.42" y="0" font-family="Liberation Sans" font-size="22.4" >250.0mg/kgbwtextract</text>
<rect x="447.2" y="137.90" width="28.8" height="22" fill="#000"/>
<rect x="451.4" y="142.00" width="20.4" height="13.6" fill="#fff"/>
<rect x="454.0" y="147.10" width="1.2" height="1.9" fill="#000"/>
<rect x="458.6" y="147.10" width="1.2" height="1.9" fill="#000"/>
<rect x="463.1" y="147.10" width="1.2" height="1.9" fill="#000"/>
<rect x="468.0" y="147.10" width="1.2" height="1.9" fill="#000"/>
<rect x="451.4" y="154.20" width="1.3" height="1.5" fill="#000"/>
<rect x="456.2" y="154.20" width="1.3" height="1.5" fill="#000"/>
<rect x="461.0" y="154.20" width="1.3" height="1.5" fill="#000"/>
<rect x="465.6" y="154.20" width="1.3" height="1.5" fill="#000"/>
<rect x="470.4" y="154.20" width="1.3" height="1.5" fill="#000"/>
<text transform="translate(0,198.40) scale(0.6700,1)" x="727.76 743.01 758.98 773.78 781.96 805.23 829.21 844.33 851.48 866.22 889.60 905.26 925.63 940.39 956.17 971.00 977.17 986.81 1002.48 1017.42" y="0" font-family="Liberation Sans" font-size="22.4" >500.0mg/kgbwtextract</text>
<rect x="447.2" y="177.90" width="28.8" height="22" fill="#000"/>
<rect x="454.3" y="186.20" width="1.2" height="4.8" fill="#fff"/>
<rect x="454.3" y="186.20" width="2.6" height="1.2" fill="#fff"/>
<rect x="458.9" y="185.10" width="1.0" height="2.4" fill="#fff"/>
<rect x="463.8" y="186.20" width="1.2" height="4.8" fill="#fff"/>
<rect x="463.8" y="186.20" width="2.6" height="1.2" fill="#fff"/>
<rect x="468.3" y="185.10" width="1.0" height="2.4" fill="#fff"/>
<rect x="451.6" y="189.40" width="1.2" height="1.5" fill="#fff"/>
<rect x="458.9" y="189.40" width="1.2" height="4.8" fill="#fff"/>
<rect x="458.9" y="189.40" width="2.6" height="1.2" fill="#fff"/>
<rect x="468.3" y="189.40" width="1.2" height="4.8" fill="#fff"/>
<rect x="468.3" y="189.40" width="2.6" height="1.2" fill="#fff"/>
<rect x="454.3" y="192.90" width="1.2" height="4.0" fill="#fff"/>
<rect x="454.3" y="192.90" width="2.6" height="1.2" fill="#fff"/>
<rect x="463.8" y="192.90" width="1.2" height="4.0" fill="#fff"/>
<rect x="463.8" y="192.90" width="2.6" height="1.2" fill="#fff"/>
<rect x="451.6" y="195.90" width="1.2" height="1.3" fill="#fff"/>
<rect x="459.0" y="195.90" width="3.0" height="1.3" fill="#fff"/>
<rect x="468.3" y="195.90" width="3.0" height="1.3" fill="#fff"/>
<text transform="translate(0,238.50) scale(0.6700,1)" x="727.51 743.43 758.98 773.78 781.96 805.23 829.21 844.33 851.48 866.22 889.60 905.26 925.63 940.39 956.17 971.00 977.17 986.81 1002.48 1017.42" y="0" font-family="Liberation Sans" font-size="22.4" >750.0mg/kgbwtextract</text>
<rect x="447.2" y="217.90" width="28.8" height="22" fill="#000"/>
<rect x="451.4" y="222.70" width="3.5" height="6.0" fill="#fff"/>
<rect x="451.4" y="234.80" width="3.5" height="1.4" fill="#fff"/>
<rect x="458.7" y="222.70" width="5.5" height="6.0" fill="#fff"/>
<rect x="458.7" y="234.80" width="5.5" height="1.4" fill="#fff"/>
<rect x="468.0" y="222.70" width="3.8" height="6.0" fill="#fff"/>
<rect x="468.0" y="234.80" width="3.8" height="1.4" fill="#fff"/>
</svg>
</body></html>
